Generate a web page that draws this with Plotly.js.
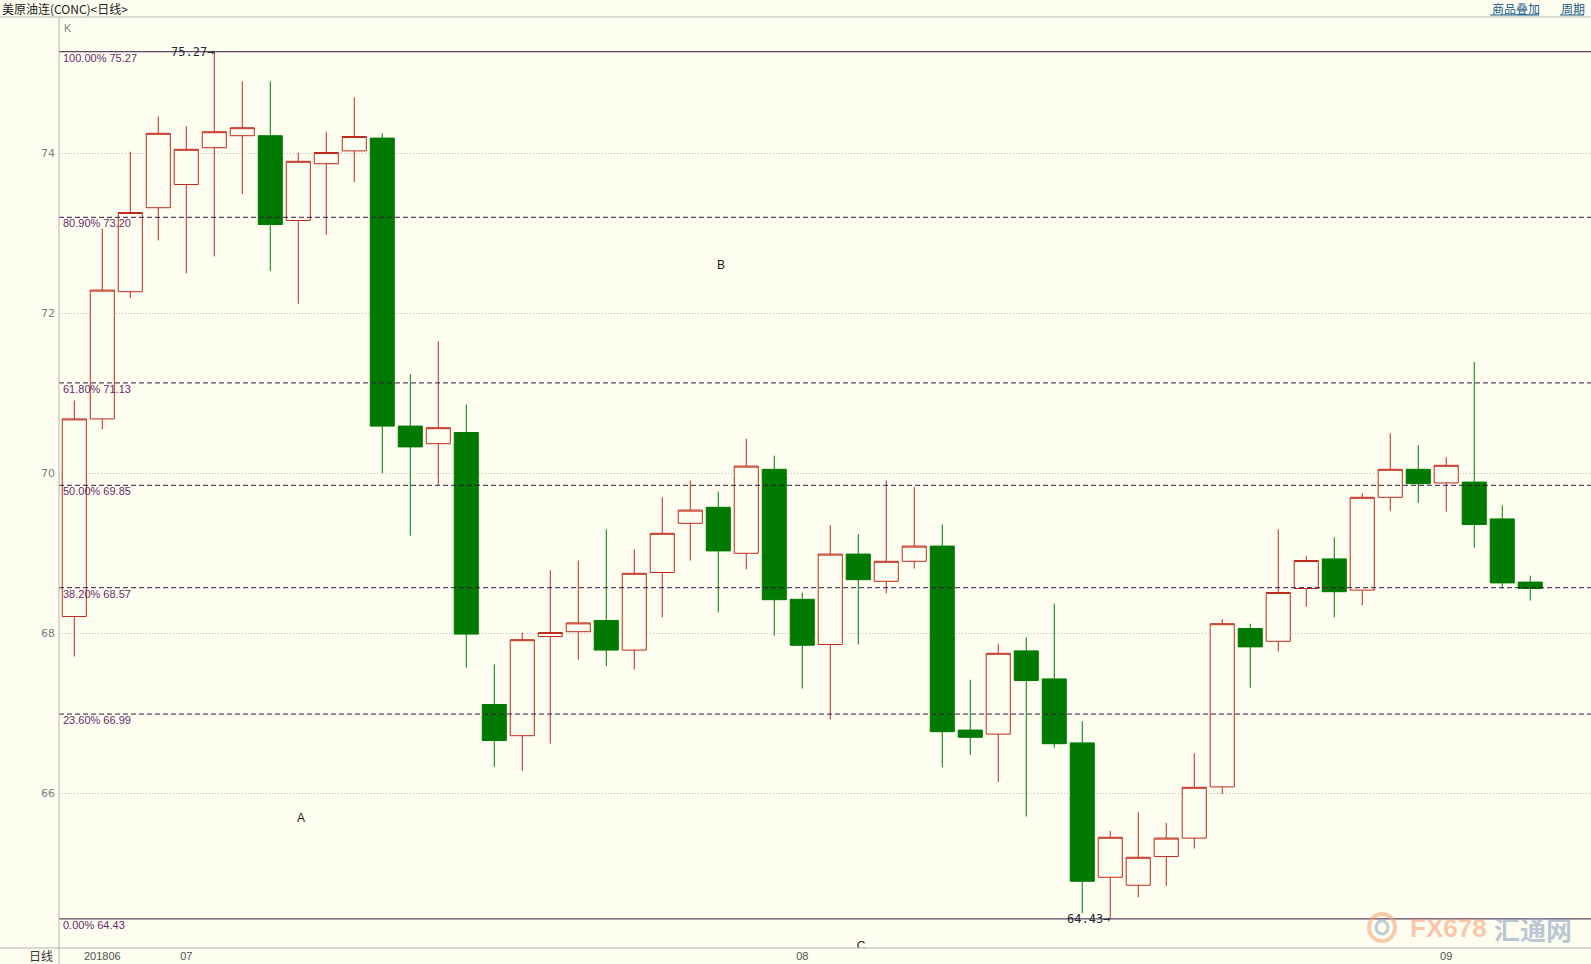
<!DOCTYPE html>
<html><head><meta charset="utf-8">
<script src="https://cdn.plot.ly/plotly-3.0.1.min.js"></script>
<style>html,body{margin:0;padding:0;background:#fefef0;overflow:hidden;} #chart{width:1591px;height:964px;}</style>
</head><body><div id="chart"></div>
<script>
// ---- data ----
const dates = [
 '2018-06-26','2018-06-27','2018-06-28','2018-06-29',
 '2018-07-02','2018-07-03','2018-07-04','2018-07-05','2018-07-06',
 '2018-07-09','2018-07-10','2018-07-11','2018-07-12','2018-07-13',
 '2018-07-16','2018-07-17','2018-07-18','2018-07-19','2018-07-20',
 '2018-07-23','2018-07-24','2018-07-25','2018-07-26','2018-07-27',
 '2018-07-30','2018-07-31',
 '2018-08-01','2018-08-02','2018-08-03',
 '2018-08-06','2018-08-07','2018-08-08','2018-08-09','2018-08-10',
 '2018-08-13','2018-08-14','2018-08-15','2018-08-16','2018-08-17',
 '2018-08-20','2018-08-21','2018-08-22','2018-08-23','2018-08-24',
 '2018-08-27','2018-08-28','2018-08-29','2018-08-30','2018-08-31',
 '2018-09-03','2018-09-04','2018-09-05','2018-09-06'
];
const openP = [68.21,70.68,72.27,73.32,73.61,74.07,74.22,74.22,73.16,73.87,74.03,74.19,70.59,70.37,70.51,67.11,66.72,67.96,68.02,68.16,67.79,68.76,69.375,69.575,69.00,70.05,68.425,67.86,68.99,68.65,68.90,69.09,66.79,66.74,67.78,67.43,66.63,64.95,64.85,65.21,65.44,66.08,68.06,67.90,68.56,68.93,68.54,69.70,70.05,69.88,69.89,69.43,68.64];
const highP = [70.91,73.06,74.02,74.46,74.34,75.27,74.90,74.90,74.01,74.27,74.70,74.25,71.24,71.65,70.86,67.61,68.01,68.79,68.91,69.30,69.05,69.70,69.91,69.77,70.43,70.22,68.51,69.35,69.24,69.91,69.83,69.36,67.42,67.87,67.95,68.37,66.90,65.53,65.77,65.63,66.50,68.175,68.12,69.30,68.97,69.20,69.75,70.50,70.35,70.20,71.39,69.60,68.72];
const lowP = [67.71,70.55,72.19,72.91,72.50,72.71,73.49,72.53,72.12,72.98,73.64,70.00,69.22,69.85,67.57,66.33,66.28,66.62,67.67,67.59,67.55,68.20,68.91,68.26,68.80,67.97,67.31,66.925,67.86,68.50,68.81,66.325,66.48,66.14,65.71,66.57,64.50,64.43,64.70,64.84,65.31,65.99,67.32,67.77,68.33,68.20,68.35,69.53,69.63,69.52,69.07,68.56,68.41];
const closeP = [70.68,72.29,73.26,74.25,74.05,74.27,74.32,73.11,73.90,74.01,74.21,70.59,70.33,70.57,67.99,66.66,67.92,68.01,68.13,67.79,68.75,69.25,69.54,69.03,70.09,68.42,67.85,68.99,68.67,68.90,69.09,66.77,66.70,67.75,67.41,66.62,64.90,65.45,65.20,65.44,66.075,68.12,67.83,68.51,68.91,68.52,69.70,70.05,69.87,70.10,69.36,68.63,68.56];

const fibLevels = ['0.00%','23.60%','38.20%','50.00%','61.80%','80.90%','100.00%'];
const fibPrices = [64.43,66.99,68.57,69.85,71.13,73.20,75.27];

const tickDates = ['2018-06-27','2018-07-02','2018-08-01','2018-09-03'];
const tickLabels = ['201806','07','08','09'];
const yTicks = [66,68,70,72,74];

const waveLabels = ['A','B','C'];
const waveX = [8.1,23.1,28.1];
const waveY = [65.68,72.59,64.08];

const extremeIdx = [5,37];
const extremeVal = [75.27,64.43];

// ---- layout helpers ----
const BG = '#fefef0';
const L = 59, T = 17, W = 1532, H = 931;
const XR = [-0.546, 54.17];
const px = x => (x - L) / W;
const py = y => (T + H - y) / H;

const trace = {
  type: 'candlestick',
  x: dates, open: openP, high: highP, low: lowP, close: closeP,
  increasing: {line: {color: '#bf2a1c', width: 1}, fillcolor: BG},
  decreasing: {line: {color: '#007a00', width: 1}, fillcolor: '#007a00'},
  whiskerwidth: 0,
  hoverinfo: 'none',
  showlegend: false
};

const waveTrace = {
  type: 'scatter', mode: 'text', xaxis: 'x2', yaxis: 'y',
  x: waveX, y: waveY, text: waveLabels, cliponaxis: true,
  textfont: {family: 'Liberation Sans, Arial, sans-serif', size: 12, color: '#202020'},
  hoverinfo: 'none', showlegend: false
};

const shapes = [];
const annotations = [];
const fibColor = '#361640';
fibPrices.forEach((p, i) => {
  const solid = (i === 0 || i === fibPrices.length - 1);
  shapes.push({type: 'line', xref: 'paper', yref: 'y', x0: 0, x1: 1, y0: p, y1: p,
    line: {color: fibColor, width: 1, dash: solid ? 'solid' : '5px,3px'}, layer: 'above'});
  annotations.push({xref: 'paper', yref: 'y', x: px(62), y: p, xanchor: 'left', yanchor: 'top',
    text: fibLevels[i] + ' ' + p.toFixed(2), showarrow: false, borderpad: 0, yshift: 1,
    font: {family: 'Liberation Sans, Arial, sans-serif', size: 11, color: '#6a2a6a'}});
});

// frame lines
shapes.push({type: 'line', xref: 'paper', yref: 'paper', x0: px(0), x1: px(1591), y0: 1, y1: 1, line: {color: '#b4b4b4', width: 1}});
shapes.push({type: 'line', xref: 'paper', yref: 'paper', x0: px(0), x1: px(1591), y0: 0, y1: 0, line: {color: '#b4b4b4', width: 1}});
shapes.push({type: 'line', xref: 'paper', yref: 'paper', x0: 0, x1: 0, y0: 1, y1: py(964), line: {color: '#b4b4b4', width: 1}});

// extreme labels
extremeIdx.forEach((idx, k) => {
  annotations.push({xref: 'x', yref: 'y', x: dates[idx], y: extremeVal[k], xanchor: 'right', yanchor: 'middle',
    text: extremeVal[k].toFixed(2) + '→', showarrow: false, borderpad: 0, xshift: 1,
    font: {family: 'DejaVu Sans Mono, monospace', size: 12, color: '#1e2a3a'}});
});

// header / footer texts
annotations.push({xref: 'paper', yref: 'paper', x: px(0), y: py(8), xanchor: 'left', yanchor: 'middle', showarrow: false,
  text: '美原油连(CONC)&lt;日线&gt;', font: {family: 'Noto Sans CJK SC, sans-serif', size: 12, color: '#222'}});
annotations.push({xref: 'paper', yref: 'paper', x: px(1490), y: py(8), xanchor: 'left', yanchor: 'middle', showarrow: false,
  text: '商品叠加', font: {family: 'Noto Sans CJK SC, sans-serif', size: 12, color: '#1b5a8a'}});
annotations.push({xref: 'paper', yref: 'paper', x: px(1559), y: py(8), xanchor: 'left', yanchor: 'middle', showarrow: false,
  text: '周期', font: {family: 'Noto Sans CJK SC, sans-serif', size: 12, color: '#1b5a8a'}});
shapes.push({type: 'line', xref: 'paper', yref: 'paper', x0: px(1490), x1: px(1539), y0: py(15), y1: py(15), line: {color: '#1b5a8a', width: 1}});
shapes.push({type: 'line', xref: 'paper', yref: 'paper', x0: px(1560), x1: px(1584), y0: py(15), y1: py(15), line: {color: '#1b5a8a', width: 1}});
annotations.push({xref: 'paper', yref: 'paper', x: px(62), y: py(28), xanchor: 'left', yanchor: 'middle', showarrow: false,
  text: 'K', font: {family: 'Liberation Sans, Arial, sans-serif', size: 11, color: '#808080'}});
annotations.push({xref: 'paper', yref: 'paper', x: px(55), y: py(956), xanchor: 'right', yanchor: 'middle', showarrow: false,
  text: '日线', font: {family: 'Noto Sans CJK SC, sans-serif', size: 12, color: '#333'}});

// watermark
shapes.push({type: 'circle', xref: 'paper', yref: 'paper', x0: px(1369), x1: px(1395), y0: py(914), y1: py(941),
  line: {color: 'rgba(240,160,110,0.55)', width: 4}, layer: 'above'});
shapes.push({type: 'circle', xref: 'paper', yref: 'paper', x0: px(1376), x1: px(1388), y0: py(921), y1: py(934),
  line: {color: 'rgba(150,170,195,0.6)', width: 3}, layer: 'above'});
annotations.push({xref: 'paper', yref: 'paper', x: px(1408), y: py(928), xanchor: 'left', yanchor: 'middle', showarrow: false,
  text: '<b>FX678</b>', font: {family: 'Liberation Sans, Arial, sans-serif', size: 26, color: 'rgba(246,150,110,0.55)'}});
annotations.push({xref: 'paper', yref: 'paper', x: px(1492), y: py(928), xanchor: 'left', yanchor: 'middle', showarrow: false,
  text: '<b>汇通网</b>', font: {family: 'Noto Sans CJK SC, sans-serif', size: 26, color: 'rgba(140,162,190,0.6)'}});

const layout = {
  width: 1591, height: 964,
  margin: {l: L, r: 0, t: T, b: 964 - T - H, pad: 0},
  paper_bgcolor: BG, plot_bgcolor: BG,
  showlegend: false,
  boxgap: 0.14, boxgroupgap: 0,
  xaxis: {type: 'category', range: XR, rangeslider: {visible: false},
    tickmode: 'array', tickvals: tickDates, ticktext: tickLabels, showgrid: false, zeroline: false,
    showline: false, ticks: '', tickfont: {family: 'Liberation Sans, Arial, sans-serif', size: 11, color: '#505050'}},
  xaxis2: {type: 'linear', overlaying: 'x', range: XR, visible: false, showgrid: false, zeroline: false},
  yaxis: {range: [64.066, 75.704], tickmode: 'array', tickvals: yTicks, showgrid: true,
    gridcolor: '#bdbdbd', griddash: '1px,2px', gridwidth: 1, zeroline: false, showline: false, ticks: '',
    ticklabelstandoff: 3,
    tickfont: {family: 'DejaVu Sans, sans-serif', size: 11, color: '#808080'}},
  shapes: shapes,
  annotations: annotations
};

Plotly.newPlot('chart', [trace, waveTrace], layout, {staticPlot: true, displayModeBar: false});
</script>
</body></html>
